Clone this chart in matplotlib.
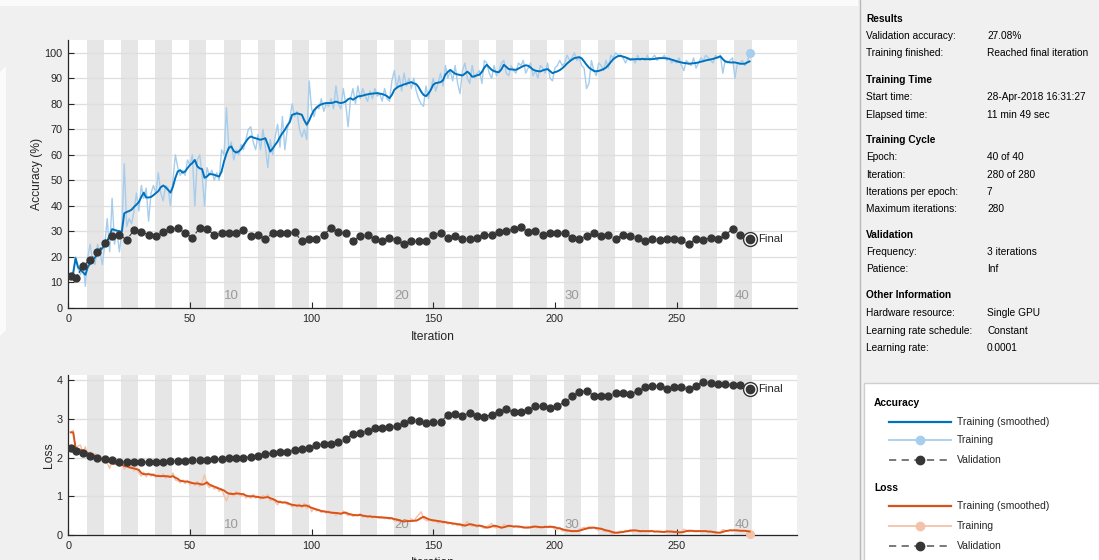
import numpy as np
import matplotlib
matplotlib.use("Agg")
import matplotlib.pyplot as plt
from matplotlib.patches import Rectangle, Polygon
from matplotlib.lines import Line2D

plt.rcParams['font.family'] = ['Liberation Sans', 'DejaVu Sans']

# ---------------------------------------------------------------- data
iterations = np.arange(1, 281)

acc_smooth = [
    13, 13.6, 19.5, 16, 15, 14, 13, 16, 17.5, 19, 19.8, 21, 22.3, 23.5,
    24.5, 26.3, 28.5, 30.9, 30.6, 30.3, 30.1, 29.9, 37.1, 37.6, 38, 38.5, 39.6, 40.5,
    41.5, 43.5, 45.2, 43.3, 43.3, 43.5, 44.2, 45, 45.8, 47.3, 48, 47.3, 46.3, 45.2,
    47.5, 51, 53.5, 54, 53, 53.5, 54.8, 56, 56.8, 58, 55.5, 54.7, 54.4, 51,
    51.5, 52.5, 52.4, 52.2, 51.8, 51.5, 53.5, 57.4, 60.5, 62.8, 63.3, 61.5, 60.9, 61.3,
    62.2, 63.8, 65.2, 66.5, 67.2, 66.8, 66.5, 66.2, 65.9, 66.2, 66.5, 64, 61.3, 62.5,
    63.9, 65.2, 67, 68.5, 69.8, 71.5, 72.8, 75.7, 76, 76.3, 76, 75.7, 73.5, 71.8,
    73.5, 75.7, 77.5, 78.5, 79.3, 79.8, 80.1, 80.3, 80.3, 80.3, 80.5, 80.9, 80.5, 80.3,
    80.5, 80.9, 81.8, 82.2, 81.6, 82.2, 82.9, 83, 83.2, 83.5, 83.7, 83.9, 84, 84.1,
    84.2, 84, 83.8, 83.5, 83, 82.2, 83.5, 85.5, 86.3, 86.9, 87.2, 87.6, 87.9, 88.2,
    88.5, 88, 87.7, 86.5, 84.8, 83.5, 83, 84, 85.5, 87.5, 88.1, 88.3, 88.5, 89.2,
    91.5, 92.5, 93.3, 92.5, 91.8, 91.5, 91.3, 91.1, 91.8, 92.6, 91.8, 90.6, 90.8, 91.2,
    91.4, 92.5, 94.2, 95.3, 94.3, 93.3, 92.8, 92.5, 92.4, 93.5, 95.3, 94.5, 93.6, 93.5,
    93.4, 93.3, 93.8, 94.3, 94.8, 95.1, 94.9, 94.2, 93.4, 93, 92.8, 92.7, 93.1, 93.4,
    93.6, 92.8, 92, 92.4, 92.7, 93.2, 93.9, 94.8, 95.8, 96.6, 97.3, 97.9, 98.1, 98.3,
    97.8, 96.6, 95.3, 94.2, 93.5, 92.9, 92.7, 92.9, 93.2, 93.6, 94.2, 95.2, 96.4, 97.5,
    98.2, 98.7, 98.8, 98.5, 98.2, 97.8, 97.4, 97.4, 97.5, 97.5, 97.5, 97.6, 97.5, 97.5,
    97.5, 97.5, 97.6, 97.8, 97.9, 97.9, 97.9, 97.8, 97.6, 97.3, 97.0, 96.7, 96.4, 96.2,
    96.0, 95.9, 95.7, 95.8, 95.9, 96.0, 96.2, 96.5, 96.7, 97.0, 97.2, 97.4, 97.6, 97.9,
    98.2, 98.6, 97.5, 96.6, 96.4, 96.2, 96.2, 96.2, 96.0, 95.7, 95.7, 95.7, 96.2, 96.6,
]

acc_raw = [
    12.5, 14, 20, 15.5, 13, 18, 8.5, 20, 25, 18, 17, 25, 22, 17,
    25, 35, 22, 43, 25, 30, 22, 30, 56.5, 32, 35, 33, 38, 45,
    38, 48, 43, 47, 34, 45, 48, 45, 53, 45, 42, 48, 47, 40,
    50, 60, 55, 52, 54, 52, 58, 56, 60, 40, 58, 60, 52, 40,
    55, 52, 54, 50, 53, 50, 62, 60, 78.5, 62, 65, 58, 62, 60,
    64, 62, 66, 70, 71, 65, 62, 68, 62, 70, 63, 55, 66, 60,
    67, 72, 63, 75, 62, 70, 74, 80, 75, 77, 70, 67, 70, 66,
    89, 78, 75, 79, 78, 82, 77, 80, 79, 82, 78, 87, 80, 78,
    86, 80, 71, 82, 86, 80, 87, 82, 86, 83, 81, 85, 82, 86,
    83, 84, 81, 86, 82, 81, 89, 93, 86, 91, 85, 92, 87, 90,
    86, 90, 85, 82, 80, 79, 87, 82, 86, 90, 85, 88, 92, 87,
    95, 90, 93, 89, 95, 88, 84, 93, 96, 90, 88, 95, 90, 92,
    93, 88, 97, 96, 92, 90, 95, 91, 93, 96, 97, 92, 91, 95,
    93, 92, 96, 95, 97, 92, 94, 96, 91, 93, 90, 95, 94, 92,
    96, 90, 89, 94, 95, 97, 95, 96, 99, 97, 98, 100, 97, 98,
    95, 94, 86, 88, 97, 93, 91, 96, 95, 93, 97, 94, 99, 98,
    100, 99, 99, 98, 96, 98, 97, 98, 96, 99, 97, 98, 97, 99,
    97, 98, 99, 97, 98, 98, 99, 97, 98, 96, 97, 96, 98, 95,
    93, 97, 96, 95, 98, 94, 96, 98, 97, 99, 98, 97, 96, 99,
    98, 99, 92, 97, 96, 97, 98, 90, 96, 96, 97, 95, 96, 100,
]

loss_smooth = [
    2.65, 2.65, 2.25, 2.22, 2.2, 2.18, 2.15, 2.12, 2.1, 2.07, 2.04, 2.02, 1.98, 1.96,
    1.93, 1.9, 1.88, 1.85, 1.84, 1.84, 1.83, 1.82, 1.78, 1.77, 1.75, 1.73, 1.72, 1.7,
    1.68, 1.6, 1.57, 1.57, 1.57, 1.56, 1.55, 1.53, 1.52, 1.52, 1.52, 1.52, 1.51, 1.5,
    1.52, 1.48, 1.45, 1.4, 1.39, 1.38, 1.38, 1.36, 1.34, 1.33, 1.33, 1.32, 1.3, 1.32,
    1.36, 1.3, 1.27, 1.25, 1.22, 1.2, 1.17, 1.15, 1.1, 1.07, 1.06, 1.06, 1.07, 1.07,
    1.06, 1.05, 1.02, 1.0, 1.0, 1.0, 0.99, 0.98, 0.97, 0.96, 0.97, 0.98, 0.95, 0.93,
    0.9, 0.86, 0.85, 0.84, 0.84, 0.83, 0.8, 0.78, 0.77, 0.76, 0.76, 0.75, 0.76, 0.76,
    0.73, 0.7, 0.68, 0.66, 0.64, 0.62, 0.61, 0.6, 0.59, 0.58, 0.57, 0.57, 0.56, 0.55,
    0.57, 0.58, 0.55, 0.53, 0.52, 0.51, 0.51, 0.52, 0.5, 0.49, 0.48, 0.48, 0.47, 0.47,
    0.46, 0.46, 0.45, 0.45, 0.44, 0.44, 0.43, 0.41, 0.4, 0.38, 0.36, 0.35, 0.36, 0.36,
    0.36, 0.37, 0.37, 0.4, 0.44, 0.47, 0.44, 0.41, 0.39, 0.38, 0.37, 0.36, 0.35, 0.34,
    0.33, 0.32, 0.31, 0.3, 0.29, 0.28, 0.27, 0.26, 0.24, 0.26, 0.28, 0.27, 0.25, 0.24,
    0.24, 0.23, 0.21, 0.19, 0.2, 0.22, 0.24, 0.23, 0.21, 0.19, 0.2, 0.22, 0.24, 0.23,
    0.22, 0.22, 0.22, 0.21, 0.2, 0.19, 0.19, 0.2, 0.21, 0.22, 0.21, 0.2, 0.2, 0.21,
    0.21, 0.21, 0.21, 0.2, 0.18, 0.17, 0.15, 0.13, 0.12, 0.11, 0.1, 0.1, 0.1, 0.11,
    0.13, 0.15, 0.17, 0.18, 0.19, 0.19, 0.18, 0.17, 0.16, 0.14, 0.12, 0.11, 0.09, 0.07,
    0.06, 0.06, 0.07, 0.08, 0.09, 0.1, 0.11, 0.12, 0.12, 0.11, 0.1, 0.1, 0.1, 0.1,
    0.1, 0.1, 0.09, 0.09, 0.09, 0.08, 0.08, 0.09, 0.09, 0.09, 0.08, 0.08, 0.07, 0.07,
    0.08, 0.1, 0.11, 0.11, 0.1, 0.1, 0.1, 0.1, 0.1, 0.1, 0.09, 0.09, 0.08, 0.07,
    0.06, 0.06, 0.08, 0.1, 0.11, 0.12, 0.12, 0.12, 0.12, 0.11, 0.11, 0.11, 0.1, 0.09,
]

loss_raw = [
    2.65, 2.7, 2.2, 2.3, 2.32, 2.1, 2.28, 2.05, 2.15, 2.0, 2.1, 1.95, 2.05, 1.9,
    1.98, 1.85, 1.72, 1.95, 1.82, 1.86, 1.78, 1.88, 1.7, 1.8, 1.72, 1.78, 1.65, 1.72,
    1.6, 1.52, 1.62, 1.5, 1.6, 1.52, 1.58, 1.48, 1.56, 1.5, 1.58, 1.46, 1.55, 1.5,
    1.6, 1.42, 1.4, 1.35, 1.42, 1.33, 1.4, 1.3, 1.35, 1.28, 1.38, 1.25, 1.36, 1.55,
    1.3, 1.22, 1.3, 1.18, 1.25, 1.12, 1.2, 1.02, 0.88, 1.05, 1.1, 1.0, 1.12, 1.05,
    1.0, 1.08, 0.95, 1.02, 0.95, 1.05, 0.95, 1.0, 0.92, 1.02, 0.98, 1.05, 0.88, 0.92,
    0.85, 0.78, 0.88, 0.82, 0.86, 0.78, 0.8, 0.72, 0.78, 0.72, 0.8, 0.7, 0.82, 0.68,
    0.78, 0.6, 0.7, 0.62, 0.66, 0.58, 0.62, 0.56, 0.62, 0.55, 0.6, 0.5, 0.58, 0.52,
    0.62, 0.55, 0.5, 0.55, 0.48, 0.53, 0.5, 0.55, 0.46, 0.5, 0.45, 0.5, 0.44, 0.48,
    0.46, 0.43, 0.48, 0.42, 0.46, 0.4, 0.45, 0.36, 0.42, 0.33, 0.38, 0.32, 0.4, 0.35,
    0.42, 0.35, 0.45, 0.52, 0.6, 0.42, 0.38, 0.36, 0.4, 0.34, 0.38, 0.3, 0.36, 0.3,
    0.34, 0.28, 0.32, 0.26, 0.3, 0.24, 0.3, 0.2, 0.28, 0.35, 0.26, 0.22, 0.26, 0.2,
    0.26, 0.2, 0.17, 0.22, 0.25, 0.3, 0.2, 0.18, 0.22, 0.16, 0.28, 0.24, 0.2, 0.25,
    0.2, 0.24, 0.19, 0.22, 0.17, 0.2, 0.22, 0.18, 0.24, 0.2, 0.18, 0.22, 0.2, 0.23,
    0.19, 0.24, 0.2, 0.15, 0.14, 0.2, 0.1, 0.12, 0.08, 0.12, 0.08, 0.13, 0.1, 0.15,
    0.17, 0.2, 0.14, 0.22, 0.16, 0.2, 0.15, 0.12, 0.18, 0.1, 0.08, 0.1, 0.05, 0.03,
    0.05, 0.08, 0.1, 0.06, 0.12, 0.1, 0.14, 0.08, 0.1, 0.12, 0.07, 0.12, 0.09, 0.1,
    0.08, 0.11, 0.07, 0.1, 0.07, 0.09, 0.06, 0.12, 0.08, 0.07, 0.06, 0.09, 0.05, 0.08,
    0.15, 0.12, 0.08, 0.1, 0.12, 0.08, 0.11, 0.1, 0.09, 0.1, 0.07, 0.08, 0.06, 0.05,
    0.06, 0.07, 0.14, 0.12, 0.1, 0.13, 0.11, 0.14, 0.1, 0.12, 0.09, 0.11, 0.08, 0.03,
]

val_iters = [1, 3] + list(range(6, 277, 3))
val_acc = [
    12.6, 11.7, 16.3, 19.0, 21.9, 25.6, 28.2, 28.7, 26.7, 30.5, 29.9, 28.7, 28.2, 29.9,
    30.8, 31.3, 29.2, 27.6, 31.3, 30.8, 28.7, 29.2, 29.2, 29.2, 30.4, 28.2, 28.7, 27.1,
    29.2, 29.2, 29.2, 29.7, 26.1, 27.1, 27.1, 28.7, 31.3, 29.7, 29.2, 26.1, 28.2, 28.7,
    27.1, 26.1, 27.6, 26.6, 25.0, 26.1, 26.1,
    26.1, 28.7, 29.2, 27.6, 28.2, 27.1, 27.1, 27.6, 28.7, 28.7, 29.7, 30.2, 30.8, 31.8,
    29.7, 30.2, 28.7, 29.2, 29.2, 29.2, 27.6, 27.1, 28.2, 29.2, 28.2, 28.7, 27.1, 28.7,
    28.2, 27.6, 26.1, 27.1, 26.6, 27.1, 27.1, 26.6, 25.0, 27.1, 26.6, 27.6, 27.1, 28.7,
    30.8, 28.7,
]
val_loss = [
    2.25, 2.18, 2.12, 2.05, 1.98, 1.95, 1.94, 1.89, 1.88, 1.88, 1.88, 1.88, 1.89, 1.89,
    1.91, 1.92, 1.92, 1.93, 1.93, 1.94, 1.95, 1.96, 1.98, 1.99, 2.0, 2.02, 2.04, 2.08,
    2.12, 2.13, 2.15, 2.19, 2.23, 2.25, 2.32, 2.34, 2.36, 2.39, 2.48, 2.6, 2.63, 2.69,
    2.75, 2.77, 2.78, 2.81, 2.88, 2.96, 2.94,
    2.89, 2.92, 2.92, 3.10, 3.13, 3.08, 3.16, 3.07, 3.05, 3.11, 3.17, 3.24, 3.17, 3.17,
    3.23, 3.32, 3.32, 3.29, 3.33, 3.43, 3.58, 3.69, 3.72, 3.60, 3.59, 3.60, 3.66, 3.66,
    3.65, 3.71, 3.83, 3.85, 3.84, 3.76, 3.81, 3.81, 3.76, 3.85, 3.96, 3.93, 3.90, 3.89,
    3.86, 3.88,
]
final_iter = 280
final_acc = 27.08
final_loss = 3.77

n_epochs = 40
iters_per_epoch = 7
epoch_labels = [10, 20, 30, 40]
acc_ticks = list(range(0, 101, 10))
loss_ticks = [0, 1, 2, 3, 4]
iter_ticks = [0, 50, 100, 150, 200, 250]

info_rows = [
    ("Results", None),
    ("Validation accuracy:", "27.08%"),
    ("Training finished:", "Reached final iteration"),
    ("Training Time", None),
    ("Start time:", "28-Apr-2018 16:31:27"),
    ("Elapsed time:", "11 min 49 sec"),
    ("Training Cycle", None),
    ("Epoch:", "40 of 40"),
    ("Iteration:", "280 of 280"),
    ("Iterations per epoch:", "7"),
    ("Maximum iterations:", "280"),
    ("Validation", None),
    ("Frequency:", "3 iterations"),
    ("Patience:", "Inf"),
    ("Other Information", None),
    ("Hardware resource:", "Single GPU"),
    ("Learning rate schedule:", "Constant"),
    ("Learning rate:", "0.0001"),
]
info_y = [19, 36, 53, 80, 97.5, 115, 140, 157, 175, 192, 209, 235, 252, 269,
          295, 313, 331, 348]

# ---------------------------------------------------------------- style
BG = '#f0f0f0'
INK = '#262626'
STRIPE = '#e6e6e6'
GRID = '#dedede'
BLUE = '#0072bd'
BLUE_LIGHT = '#a6cdec'
ORANGE = '#d95319'
ORANGE_LIGHT = '#f4c2a8'
VAL = '#363636'
EPOCH_TXT = '#9a9a9a'

W, H = 1099, 560
fig = plt.figure(figsize=(W / 100, H / 100), dpi=100, facecolor=BG)

# full-figure canvas in pixel units for panel decorations
canvas = fig.add_axes([0, 0, 1, 1], zorder=-5)
canvas.set_xlim(0, W)
canvas.set_ylim(H, 0)
canvas.axis('off')

# pale bands along the top and left window edges
canvas.add_patch(Polygon([(0, 0), (858, 0), (858, 6), (0, 6)],
                         closed=True, facecolor='#fbfbfb', lw=0))
canvas.add_patch(Polygon([(0, 72), (6, 66), (6, 330), (0, 336)],
                         closed=True, facecolor='#fbfbfb', lw=0))


def px_axes(left, top, right, bottom):
    return fig.add_axes([left / W, 1 - bottom / H, (right - left) / W,
                         (bottom - top) / H])


def style_axes(ax, ymax, yticks, ylabel, ylabelpad, epoch_offset):
    ax.set_facecolor('white')
    ax.set_xlim(0, 299.5)
    ax.set_ylim(0, ymax)
    for e in range(2, n_epochs + 1, 2):
        ax.axvspan(iters_per_epoch * (e - 1) + 0.8, iters_per_epoch * e + 0.8,
                   color=STRIPE, lw=0, zorder=0)
    ax.set_axisbelow(True)
    ax.yaxis.grid(True, color=GRID, lw=0.9)
    ax.set_yticks(yticks)
    ax.set_xticks(iter_ticks)
    ax.tick_params(direction='in', length=4, width=0.8, colors=INK,
                   labelsize=7.8, pad=4)
    ax.tick_params(axis='y', pad=4)
    for side in ('top', 'right'):
        ax.spines[side].set_visible(False)
    for side in ('left', 'bottom'):
        ax.spines[side].set_color(INK)
        ax.spines[side].set_linewidth(0.9)
    ax.set_xlabel('Iteration', fontsize=8.7, color=INK, labelpad=5)
    ax.set_ylabel(ylabel, fontsize=8.7, color=INK, labelpad=ylabelpad)
    for e in epoch_labels:
        ax.annotate(str(e), xy=(iters_per_epoch * e - 3, 0),
                    xycoords=('data', 'axes fraction'),
                    xytext=(0, epoch_offset), textcoords='offset pixels',
                    ha='center', va='center', fontsize=9.5, color=EPOCH_TXT)


def draw_final(ax, value):
    ax.plot([final_iter], [value], 'o', ms=10, mfc='white', mec=VAL,
            mew=1.0, zorder=6, clip_on=False)
    ax.plot([final_iter], [value], 'o', ms=6, color=VAL, zorder=7,
            clip_on=False)
    ax.annotate('Final', xy=(final_iter, value), xytext=(9, 0),
                textcoords='offset pixels', va='center', ha='left',
                fontsize=8.2, color=INK)


# ---------------------------------------------------------------- accuracy
ax_acc = px_axes(68.3, 40, 797, 308)
style_axes(ax_acc, 105, acc_ticks, 'Accuracy (%)', 1.5, 12)
ax_acc.plot(iterations, acc_raw, color=BLUE_LIGHT, lw=1.0, zorder=3)
ax_acc.plot([iterations[-1]], [acc_raw[-1]], 'o', ms=5.5, color=BLUE_LIGHT,
            zorder=3, clip_on=False)
ax_acc.plot(iterations, acc_smooth, color=BLUE, lw=1.4, zorder=4)
ax_acc.plot(val_iters + [final_iter], val_acc + [final_acc], '--o',
            color=VAL, lw=0.8, ms=5, zorder=5)
draw_final(ax_acc, final_acc)

# ---------------------------------------------------------------- loss
ax_loss = px_axes(68.3, 375, 797, 535)
style_axes(ax_loss, 4.13, loss_ticks, 'Loss', 1.5, 10)
ax_loss.plot(iterations, loss_raw, color=ORANGE_LIGHT, lw=1.0, zorder=3)
ax_loss.plot([iterations[-1]], [loss_raw[-1]], 'o', ms=5.5,
             color=ORANGE_LIGHT, zorder=3, clip_on=False)
ax_loss.plot(iterations, loss_smooth, color=ORANGE, lw=1.4, zorder=4)
ax_loss.plot(val_iters + [final_iter], val_loss + [final_loss], '--o',
             color=VAL, lw=0.8, ms=5, zorder=5)
draw_final(ax_loss, final_loss)

# ---------------------------------------------------------------- side panel
canvas.plot([860, 860], [0, H], color='#b9b9b9', lw=1.0)
for (label, value), y in zip(info_rows, info_y):
    if value is None:
        canvas.text(866, y, label, fontsize=7.3, fontweight='bold',
                    va='center', ha='left', color='black')
    else:
        canvas.text(866, y, label, fontsize=7.3, va='center', ha='left',
                    color='black')
        canvas.text(987, y, value, fontsize=7.3, va='center', ha='left',
                    color='black')

canvas.add_patch(Rectangle((864, 383), 240, 180, facecolor='white',
                           edgecolor='#cfcfcf', lw=1.0))
legend_groups = [
    ("Accuracy", 403, [(BLUE, 'smooth', "Training (smoothed)", 422),
                       (BLUE_LIGHT, 'raw', "Training", 440),
                       (VAL, 'val', "Validation", 460)]),
    ("Loss", 488, [(ORANGE, 'smooth', "Training (smoothed)", 506),
                   (ORANGE_LIGHT, 'raw', "Training", 526),
                   (VAL, 'val', "Validation", 546)]),
]
for title, ty, entries in legend_groups:
    canvas.text(874, ty, title, fontsize=7.4, fontweight='bold',
                va='center', ha='left', color='black')
    for color, kind, label, y in entries:
        if kind == 'smooth':
            canvas.plot([889, 951], [y, y], color=color, lw=1.6)
        elif kind == 'raw':
            canvas.plot([889, 951], [y, y], color=color, lw=1.3)
            canvas.plot([920], [y], 'o', ms=6, color=color)
        else:
            canvas.plot([889, 951], [y, y], color='#6e6e6e', lw=1.3,
                        dashes=(4, 3))
            canvas.plot([920], [y], 'o', ms=6, color=VAL)
        canvas.text(957, y, label, fontsize=7.5, va='center', ha='left',
                    color=INK)

fig.savefig('out.png', dpi=100, facecolor=BG)
